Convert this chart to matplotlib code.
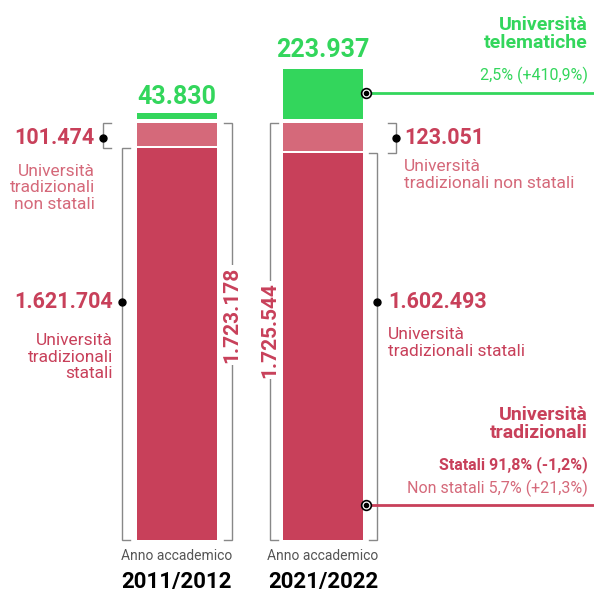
import matplotlib
matplotlib.use("Agg")
import matplotlib.pyplot as plt

years = ["2011/2012", "2021/2022"]
statali = [1621704, 1602493]
non_statali = [101474, 123051]
telematiche = [43830, 223937]
totals = ["1.723.178", "1.725.544"]

plt.rcParams['font.family'] = ["Roboto", "DejaVu Sans"]

C_ST = "#C8405A"; C_NS = "#D5697A"; C_GR = "#33D65C"; GRAY = "#888888"

W, H = 594, 599
S = 4137.0  # students per pixel
fig = plt.figure(figsize=(W/100, H/100), dpi=100)
ax = fig.add_axes([0, 0, 1, 1])
ax.set_xlim(0, W)
ax.set_ylim(-(H-540)*S, 540*S)
ax.axis("off")
def Y(p):  # pixel from top -> data
    return (540 - p)*S

xc = [177, 323]
bw = 80
gap = 2*S
for i in range(2):
    ax.bar(xc[i], statali[i], bw, bottom=0, color=C_ST, edgecolor="none")
    ax.bar(xc[i], non_statali[i]-gap, bw, bottom=statali[i]+gap, color=C_NS, edgecolor="none")
    b = statali[i]+non_statali[i]
    ax.bar(xc[i], telematiche[i]-2*gap, bw, bottom=b+2*gap, color=C_GR, edgecolor="none")

def bracket(x, y0, y1, side, lw=1.0):
    t = 8*side
    ax.plot([x+t, x, x, x+t], [y0, y0, y1, y1], color=GRAY, lw=lw, solid_joinstyle="miter")

bracket(122, 0, statali[0], +1)
ax.plot(122, Y(302), 'o', color="black", ms=5)
bracket(103, statali[0], statali[0]+non_statali[0], +1)
ax.plot(103, Y(138), 'o', color="black", ms=5)
bracket(232, 0, statali[0]+non_statali[0], -1)
bracket(270, 0, statali[1]+non_statali[1], +1)
bracket(377, 0, statali[1], -1)
ax.plot(377, Y(302), 'o', color="black", ms=5)
bracket(396, statali[1], statali[1]+non_statali[1], -1)
ax.plot(396, Y(138), 'o', color="black", ms=5)

ax.text(232, Y(315), totals[0], rotation=90, ha="center", va="center", color=C_ST,
        fontsize=15, fontweight="bold", bbox=dict(fc="white", ec="none", pad=1))
ax.text(270, Y(330), totals[1], rotation=90, ha="center", va="center", color=C_ST,
        fontsize=15, fontweight="bold", bbox=dict(fc="white", ec="none", pad=1))

def fmt(v):
    return f"{v:,}".replace(",", ".")

ax.text(xc[0], Y(97), fmt(telematiche[0]), ha="center", va="center", color=C_GR, fontsize=18, fontweight="bold")
ax.text(xc[1], Y(50), fmt(telematiche[1]), ha="center", va="center", color=C_GR, fontsize=18, fontweight="bold")

ax.text(95, Y(138), fmt(non_statali[0]), ha="right", va="center", color=C_ST, fontsize=15.5, fontweight="bold")
ax.text(95, Y(188), "Università\ntradizionali\nnon statali", ha="right", va="center", color=C_NS,
        fontsize=12.5, linespacing=1.1)
ax.text(113, Y(302), fmt(statali[0]), ha="right", va="center", color=C_ST, fontsize=15.5, fontweight="bold")
ax.text(113, Y(357), "Università\ntradizionali\nstatali", ha="right", va="center", color=C_ST,
        fontsize=12.5, linespacing=1.1)
ax.text(404, Y(138), fmt(non_statali[1]), ha="left", va="center", color=C_ST, fontsize=15.5, fontweight="bold")
ax.text(404, Y(175), "Università\ntradizionali non statali", ha="left", va="center", color=C_NS,
        fontsize=12.5, linespacing=1.1)
ax.text(388, Y(302), fmt(statali[1]), ha="left", va="center", color=C_ST, fontsize=15.5, fontweight="bold")
ax.text(388, Y(343), "Università\ntradizionali statali", ha="left", va="center", color=C_ST,
        fontsize=12.5, linespacing=1.1)

ax.text(588, Y(34), "Università\ntelematiche", ha="right", va="center", color=C_GR, fontsize=14,
        fontweight="bold", linespacing=1.05)
ax.text(588, Y(75), "2,5% (+410,9%)", ha="right", va="center", color=C_GR, fontsize=11.5)
ax.plot([366, W], [Y(93), Y(93)], color=C_GR, lw=2)
ax.plot(366, Y(93), 'o', ms=7, mfc="white", mec="black", mew=1.2)
ax.plot(366, Y(93), 'o', ms=3, color="black")

ax.text(588, Y(424), "Università\ntradizionali", ha="right", va="center", color=C_ST, fontsize=14,
        fontweight="bold", linespacing=1.05)
ax.text(588, Y(465), "Statali 91,8% (-1,2%)", ha="right", va="center", color=C_ST, fontsize=11.5, fontweight="bold")
ax.text(588, Y(488), "Non statali 5,7% (+21,3%)", ha="right", va="center", color=C_NS, fontsize=11.5)
ax.plot([366, W], [Y(505), Y(505)], color=C_ST, lw=2)
ax.plot(366, Y(505), 'o', ms=7, mfc="white", mec="black", mew=1.2)
ax.plot(366, Y(505), 'o', ms=3, color="black")

for i in range(2):
    ax.text(xc[i], Y(556), "Anno accademico", ha="center", va="center", color="#555555", fontsize=10)
    ax.text(xc[i], Y(582), years[i], ha="center", va="center", color="black", fontsize=16, fontweight="bold")

fig.savefig("out.png", dpi=100, facecolor="white")
